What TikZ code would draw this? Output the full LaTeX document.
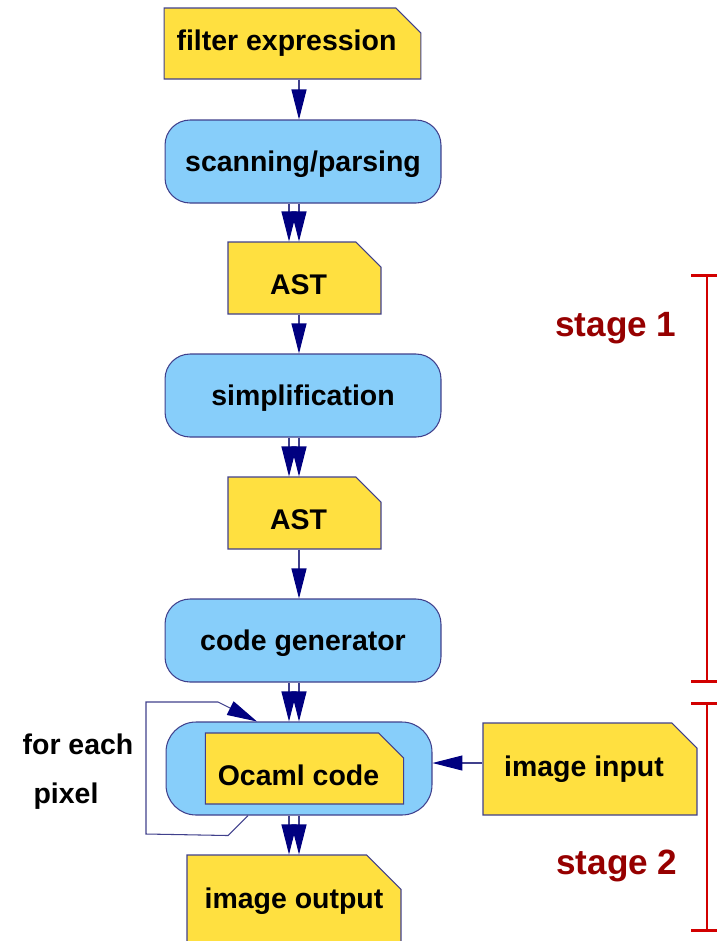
\documentclass[tikz,border=0pt]{standalone}
\usepackage{fontspec}
\setmainfont{Liberation Sans}
\usetikzlibrary{arrows.meta,shapes.misc}

\definecolor{docyellow}{RGB}{255,224,64}
\definecolor{procblue}{RGB}{135,206,250}
\definecolor{edgeblue}{RGB}{64,64,140}
\definecolor{arrownavy}{RGB}{0,0,128}
\definecolor{stagered}{RGB}{210,0,0}
\definecolor{stagetext}{RGB}{150,0,0}

\newcommand{\boxfont}{\fontsize{16.2}{19}\selectfont\bfseries}
\newcommand{\stagefont}{\fontsize{20}{24}\selectfont\bfseries}

\tikzset{
    doc/.style={chamfered rectangle, chamfered rectangle corners=north east,
        chamfered rectangle xsep=0.25cm, chamfered rectangle ysep=0.25cm,
        draw=edgeblue, fill=docyellow, line width=0.6pt, inner sep=0pt,
        font=\boxfont},
    leftdoc/.style={doc, execute at end node=\hspace{0.24cm}},
    bigdoc/.style={doc, chamfered rectangle xsep=0.42cm, chamfered rectangle ysep=0.42cm,
        minimum width=4.28cm, minimum height=1.84cm},
    proc/.style={rectangle, rounded corners=0.5cm, draw=edgeblue,
        fill=procblue, line width=0.6pt, inner sep=0pt, text depth=0pt,
        minimum width=5.52cm, minimum height=1.66cm, font=\boxfont},
    flow/.style={draw=edgeblue, line width=0.6pt,
        -{Triangle[length=0.6cm,width=0.3cm,color=arrownavy,fill=arrownavy]}},
    bracket/.style={draw=stagered, line width=1.7pt},
}

\begin{document}
\begin{tikzpicture}[x=0.02cm, y=-0.02cm]
    \useasboundingbox (0,0) rectangle (717,941);

    % stage 1: parse, simplify, generate
    \node[leftdoc, minimum width=5.1cm, minimum height=1.42cm] (expr) at (292.5,43.5) {filter expression};
    \node[proc] (scan) at (303,161.5) {scanning/parsing};
    \node[leftdoc, minimum width=3.06cm, minimum height=1.44cm, text height=0.66cm] (ast1) at (304.5,278) {AST};
    \node[proc] (simp) at (303,395.5) {simplification};
    \node[leftdoc, minimum width=3.06cm, minimum height=1.44cm, text height=0.66cm] (ast2) at (304.5,513) {AST};
    \node[proc] (gen) at (303,640.5) {code generator};

    % stage 2: run the generated code
    \node[proc, rounded corners=0.6cm, minimum width=5.32cm, minimum height=1.86cm] (run) at (299,768.5) {};
    \node[leftdoc, minimum width=3.9cm, minimum height=1.42cm, text height=0.68cm] (ocaml) at (304.5,768.5) {Ocaml code};
    \node[bigdoc, leftdoc] (input) at (590,769) {image input};
    \node[bigdoc] (output) at (294,901) {image output};

    \node[font=\boxfont] (foreach) at (78,744) {for each};
    \node[font=\boxfont] (pixel) at (66,796) {pixel};

    % arrows
    \coordinate (spine) at (299,0);
    \draw[flow] (expr.south -| spine) -- (scan.north -| spine);
    \foreach \dx in {-0.2cm,0cm} {
        \draw[flow] ([xshift=\dx]scan.south -| spine) -- ([xshift=\dx]ast1.north -| spine);
        \draw[flow] ([xshift=\dx]simp.south -| spine) -- ([xshift=\dx]ast2.north -| spine);
        \draw[flow] ([xshift=\dx]gen.south -| spine) -- ([xshift=\dx]run.north -| spine);
        \draw[flow] ([xshift=\dx]run.south -| spine) -- ([xshift=\dx]output.north -| spine);
    }
    \draw[flow] (ast1.south -| spine) -- (simp.north -| spine);
    \draw[flow] (ast2.south -| spine) -- (gen.north -| spine);
    \draw[flow] ([yshift=0.12cm]input.west) -- ([yshift=0.12cm]input.west -| run.east);
    \draw[flow] ([xshift=-1.02cm]run.south) -- ++(-20,20) -- (146,834) -- (146,702) -- (218,702)
        -- ([xshift=-0.84cm]run.north);

    % stage brackets
    \draw[bracket] (691,275) -- (717,275) (707,275) -- (707,681) (691,681) -- (717,681);
    \draw[bracket] (691,703) -- (717,703) (707,703) -- (707,930) (691,930) -- (717,930);
    \node[font=\stagefont, text=stagetext] (stage1) at (616,328) {stage 1};
    \node[font=\stagefont, text=stagetext] (stage2) at (617,866) {stage 2};
\end{tikzpicture}
\end{document}
